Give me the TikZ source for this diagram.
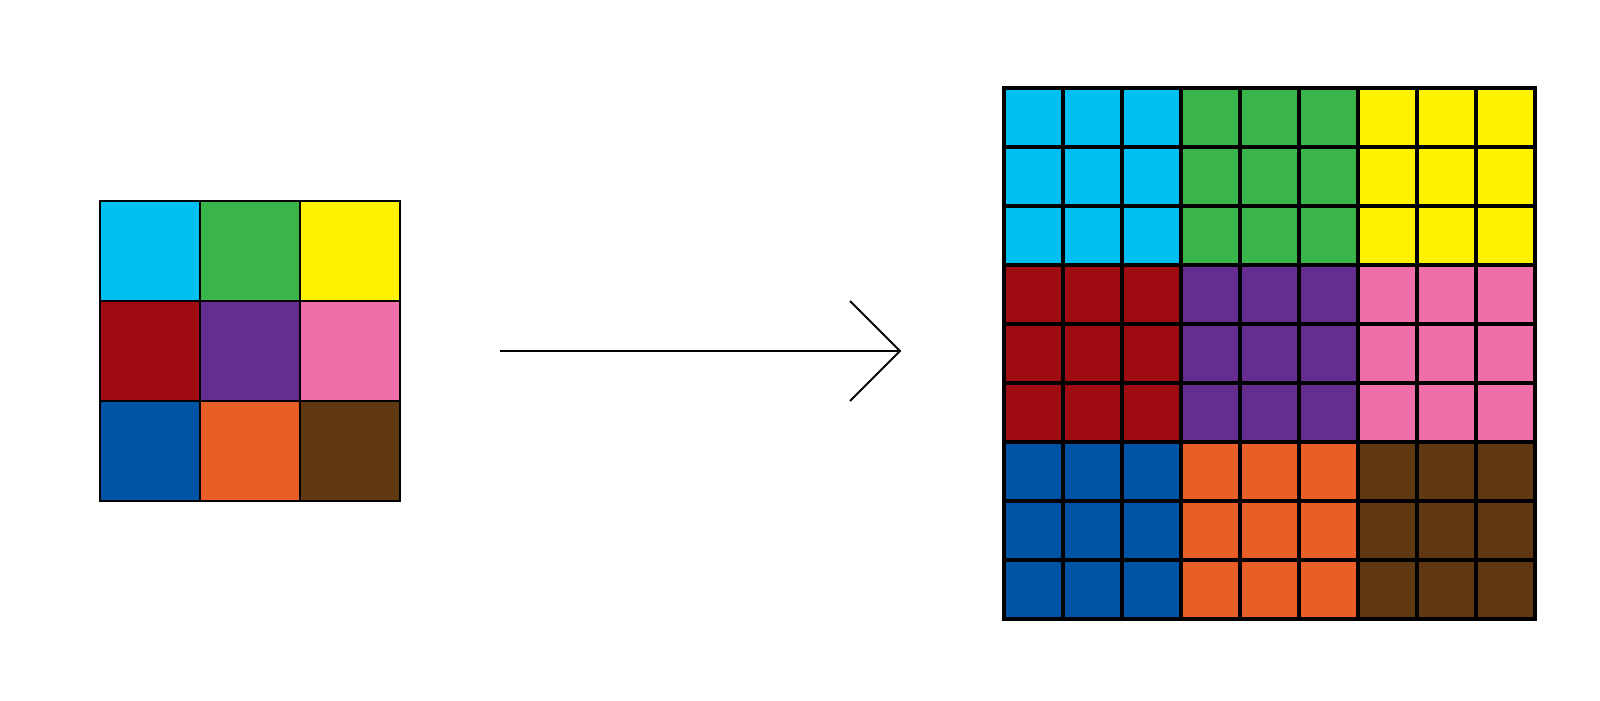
\documentclass[tikz,border=0pt]{standalone}
\usepackage{xcolor}
\definecolor{tilesky}{HTML}{00BFF3}
\definecolor{tilegreen}{HTML}{3AB54A}
\definecolor{tileyellow}{HTML}{FFF200}
\definecolor{tilered}{HTML}{9E0B10}
\definecolor{tilepurple}{HTML}{662D91}
\definecolor{tilepink}{HTML}{F06EAA}
\definecolor{tileblue}{HTML}{0054A6}
\definecolor{tileorange}{HTML}{E95E26}
\definecolor{tilebrown}{HTML}{603913}

\begin{document}
\begin{tikzpicture}[x=1pt, y=-1pt,
    bigcell/.style={draw=black, line width=2pt},
    smallcell/.style={draw=black, line width=3.2pt},
    zoomline/.style={draw=black, line width=1.9pt}]
  \useasboundingbox (0,0) rectangle (1600,701);

  % original 3x3 picture
  \foreach \ca/\cb/\cc [count=\r from 0] in
      {tilesky/tilegreen/tileyellow, tilered/tilepurple/tilepink, tileblue/tileorange/tilebrown}
    \foreach \cl [count=\c from 0] in {\ca,\cb,\cc}
      \filldraw[bigcell, fill=\cl] (100+100*\c, 201+100*\r) rectangle ++(100,100);

  % upscaled 9x9 picture
  \foreach \ca/\cb/\cc [count=\r from 0] in
      {tilesky/tilegreen/tileyellow, tilered/tilepurple/tilepink, tileblue/tileorange/tilebrown}
    \foreach \cl [count=\c from 0] in {\ca,\cb,\cc}
      \foreach \i in {0,1,2}
        \foreach \j in {0,1,2}
          \filldraw[smallcell, fill=\cl]
            (1004+177*\c+59*\j, 88+177*\r+59*\i) rectangle ++(59,59);

  % arrow
  \coordinate (tail) at (500,351);
  \coordinate (tip)  at (900,351);
  \coordinate (barbup) at (850,301);
  \coordinate (barbdown) at (850,401);
  \draw[zoomline] (tail) -- (tip);
  \draw[zoomline] (barbup) -- (tip) -- (barbdown);
\end{tikzpicture}
\end{document}
